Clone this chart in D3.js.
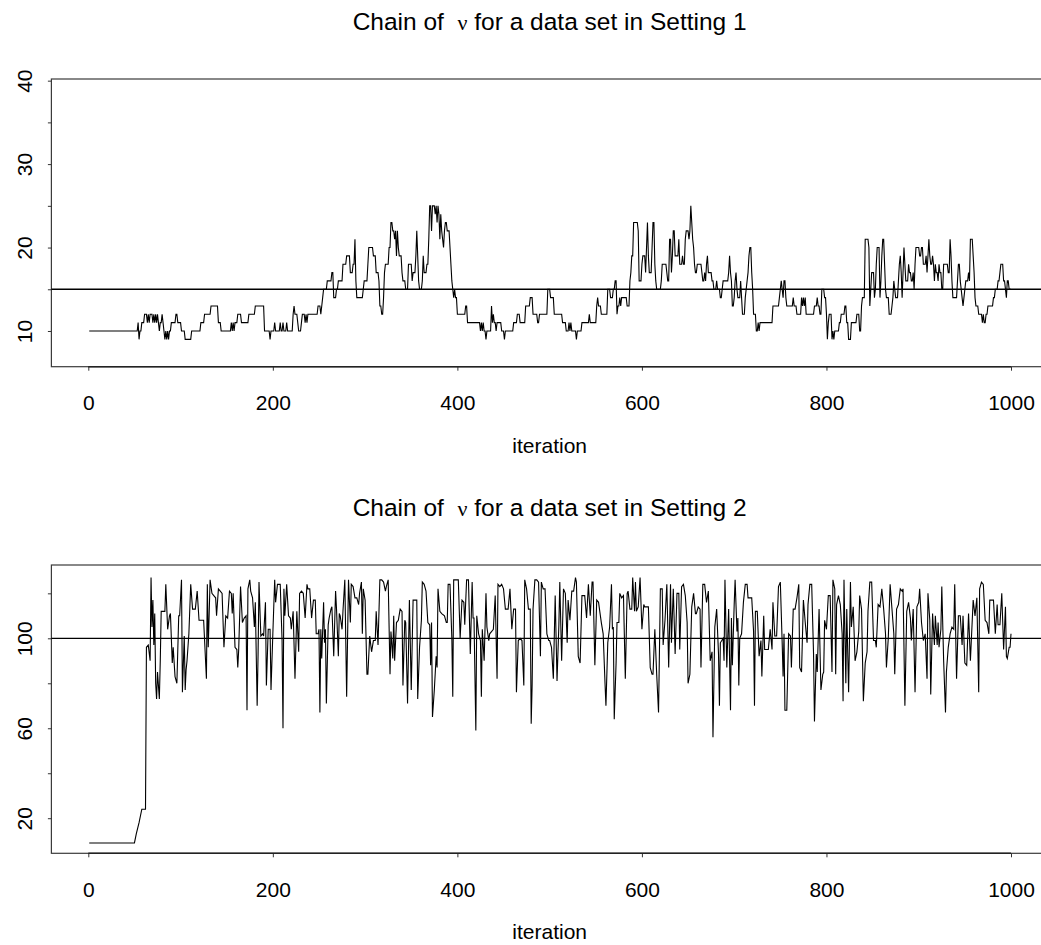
<!DOCTYPE html>
<html>
<head>
<meta charset="utf-8">
<script src="https://cdn.jsdelivr.net/npm/d3@7"></script>
<style>
  html, body { margin: 0; padding: 0; background: #fff; }
  svg { display: block; }
  text { font-family: "Liberation Sans", Arial, Helvetica, sans-serif; fill: #000; white-space: pre; }
</style>
</head>
<body>
<svg id="chart" width="1041" height="945"></svg>
<script>
// ---- data ---------------------------------------------------------------
// Setting 1: the sampler holds integer values for runs of iterations.
// Each pair is [first iteration of the run, value of nu during the run].
const chain1Runs = [
  [1,10],[54,11],[55,9],[56,10],[58,11],[61,12],[64,11],[65,12],[66,11],[67,12],[70,11],[71,12],[72,11],[73,12],[74,11],[75,12],[76,11],[77,10],[78,11],[80,12],[81,11],[82,10],[83,9],[84,10],[85,9],[86,10],[87,9],[88,10],[90,11],[95,12],[97,11],[101,10],[105,9],[112,10],[122,11],[126,12],[133,13],[141,11],[144,10],[155,11],[156,10],[157,11],[158,10],[159,11],[162,12],[166,11],[174,12],[181,13],[191,10],[197,9],[198,10],[202,11],[203,10],[208,11],[209,10],[211,11],[212,10],[215,11],[216,10],[222,12],[223,13],[224,12],[227,11],[228,10],[231,11],[232,12],[235,11],[236,12],[237,11],[238,12],[249,13],[252,12],[253,13],[254,14],[255,15],[259,16],[264,17],[266,14],[269,15],[271,16],[276,18],[280,19],[284,17],[287,18],[289,21],[290,16],[291,14],[298,15],[299,16],[303,18],[304,20],[309,19],[312,17],[315,16],[316,13],[318,12],[320,14],[321,17],[322,18],[326,20],[328,23],[330,22],[332,21],[333,22],[334,19],[335,22],[336,20],[337,19],[340,17],[341,16],[344,15],[347,18],[351,16],[352,17],[355,19],[356,22],[357,19],[358,16],[359,15],[362,16],[363,19],[364,17],[367,18],[369,21],[370,25],[372,22],[373,25],[376,24],[377,25],[378,23],[379,25],[380,24],[381,21],[382,24],[383,22],[384,21],[385,20],[386,22],[387,23],[389,22],[392,20],[393,18],[394,16],[395,15],[396,14],[397,15],[398,14],[400,12],[409,13],[411,11],[425,10],[426,11],[427,10],[428,11],[429,10],[431,9],[432,10],[437,13],[438,11],[439,12],[440,11],[442,10],[443,11],[448,10],[451,9],[452,10],[461,11],[465,12],[468,11],[474,13],[479,14],[482,12],[487,11],[489,12],[498,15],[501,14],[505,12],[514,11],[518,10],[521,11],[522,10],[523,11],[524,10],[529,9],[530,10],[535,11],[543,12],[544,11],[551,13],[552,14],[553,13],[556,12],[563,15],[566,14],[569,15],[571,16],[573,12],[574,13],[576,14],[577,13],[578,14],[584,13],[587,16],[588,17],[589,19],[591,23],[596,22],[597,16],[600,18],[601,19],[604,17],[605,20],[606,23],[607,19],[608,17],[611,20],[612,23],[614,18],[615,16],[616,15],[621,16],[622,18],[627,17],[628,16],[630,21],[632,17],[633,19],[634,22],[636,19],[640,21],[641,18],[644,19],[645,18],[647,21],[648,22],[651,21],[652,22],[653,25],[654,23],[655,21],[656,20],[657,18],[658,17],[660,18],[665,17],[666,16],[668,17],[669,16],[670,18],[671,19],[672,17],[676,16],[678,15],[681,16],[682,15],[685,14],[687,15],[688,16],[694,17],[695,19],[696,17],[697,16],[698,13],[700,14],[701,16],[702,17],[703,15],[704,14],[707,16],[708,14],[709,12],[712,14],[713,15],[714,16],[715,17],[716,19],[717,20],[719,17],[720,15],[721,12],[724,10],[726,11],[727,10],[728,11],[742,13],[749,14],[750,15],[751,16],[752,15],[753,14],[754,16],[756,14],[757,13],[764,14],[765,13],[768,12],[773,14],[774,13],[775,14],[776,13],[777,14],[778,12],[787,13],[790,14],[791,13],[793,12],[795,15],[798,14],[800,12],[801,9],[802,11],[803,12],[806,9],[807,10],[808,9],[809,10],[814,11],[816,12],[820,13],[822,11],[824,9],[827,11],[833,12],[836,10],[838,13],[839,14],[842,21],[846,20],[847,13],[848,15],[849,17],[852,14],[853,15],[854,18],[855,20],[858,14],[859,16],[860,19],[861,21],[863,18],[864,15],[865,14],[868,12],[871,13],[872,14],[873,16],[874,15],[875,14],[878,16],[879,18],[880,19],[881,17],[882,14],[883,17],[884,20],[885,18],[886,16],[889,18],[890,17],[892,16],[894,17],[895,15],[896,18],[897,20],[901,19],[903,20],[905,18],[908,19],[909,17],[910,19],[911,21],[912,19],[913,18],[915,19],[916,18],[917,16],[918,18],[919,17],[921,16],[922,18],[923,17],[925,15],[927,18],[932,17],[934,21],[935,19],[936,16],[937,14],[942,16],[943,18],[945,16],[946,15],[947,14],[948,13],[949,14],[950,15],[951,16],[954,17],[955,16],[956,21],[959,19],[960,17],[961,14],[962,13],[965,12],[969,11],[970,12],[971,11],[973,12],[975,13],[981,14],[983,15],[986,16],[988,17],[989,18],[992,16],[994,15],[995,14],[996,16],[998,15]
];
const chain1LastIter = 1000;

// Setting 2: sampled nu, as [iteration, value] pairs.
const chain2Points = [
  [1,9],[50,9],[52,13],[55,18],[58,24],[62,24],[63,96],[65,97],[67,90],[68,127],[69,105],[70,117],[71,97],[72,111],[73,80],[74,73],[75,85],[77,73],[78,90],[79,112],[81,112],[83,112],[84,124],[86,104],[88,110],[89,111],[91,89],[92,96],[94,83],[96,80],[98,110],[99,110],[101,126],[102,76],[104,101],[105,77],[106,86],[107,90],[109,102],[111,124],[113,113],[116,113],[118,121],[120,108],[123,108],[125,108],[128,82],[129,124],[130,96],[132,126],[134,120],[136,119],[138,118],[139,110],[141,122],[143,121],[145,120],[147,96],[149,110],[151,109],[153,121],[155,120],[156,111],[157,120],[159,96],[161,95],[162,87],[163,95],[165,123],[167,107],[169,109],[171,110],[172,68],[173,122],[175,126],[176,121],[178,118],[180,105],[181,116],[183,70],[184,93],[185,125],[187,101],[189,102],[190,101],[192,116],[193,79],[195,104],[197,104],[198,77],[200,102],[202,126],[203,116],[205,124],[208,124],[210,99],[211,60],[212,122],[213,110],[215,124],[217,110],[219,109],[220,104],[222,112],[224,82],[226,112],[228,94],[229,120],[231,121],[233,120],[235,109],[237,124],[238,122],[240,122],[242,109],[244,117],[246,117],[247,102],[249,102],[250,104],[251,67],[252,104],[253,91],[255,116],[256,98],[257,104],[258,71],[260,106],[261,109],[263,113],[264,114],[266,92],[268,121],[269,113],[271,92],[272,111],
  [273,110],[275,104],[276,112],[278,126],[280,74],[282,126],[284,107],[285,124],[287,123],[289,118],[291,118],[293,115],[294,120],[296,125],[297,102],[298,122],[300,117],[302,84],[303,84],[305,101],[307,94],[309,99],[311,99],[312,112],[314,97],[316,126],[318,126],[320,125],[322,121],[323,123],[325,126],[327,84],[328,103],[330,91],[331,110],[332,90],[334,107],[336,108],[338,113],[340,112],[341,79],[343,108],[344,107],[346,71],[348,117],[350,77],[352,117],[354,117],[356,117],[357,73],[359,96],[361,108],[362,125],[364,124],[366,121],[368,107],[370,106],[371,88],[372,107],[373,65],[375,77],[377,92],[378,87],[379,122],[381,112],[383,111],[386,110],[388,107],[389,107],[390,124],[392,124],[394,100],[395,74],[396,126],[399,126],[401,126],[403,100],[405,117],[407,116],[408,106],[410,126],[412,126],[414,93],[416,125],[417,109],[418,109],[420,59],[421,110],[423,102],[425,99],[426,74],[427,104],[429,90],[431,120],[432,105],[434,99],[435,102],[437,103],[439,104],[441,119],[443,82],[444,124],[446,123],[448,124],[450,122],[452,113],[453,113],[455,113],[457,122],[459,104],[461,113],[463,113],[464,76],[466,99],[468,100],[470,99],[472,79],[473,126],[475,122],[477,113],[479,113],[480,62],[481,79],[482,113],[484,126],[486,126],[488,125],[490,92],[491,125],[493,122],[495,122],[497,102],[499,99],[500,99],[502,96],[504,82],[506,119],[508,81],[510,106],[511,125],[513,90],[515,122],[517,120],[519,98],[520,117],[522,108],[524,121],[526,121],[528,127],[529,125],[531,92],[533,89],[535,119],[537,119],[538,119],[540,109],[542,124],[544,110],[546,125],[547,125],[549,88],[551,117],[553,116],[555,110],[556,107],[558,102],[560,80],[561,70],[563,98],[565,105],[567,124],[568,104],[569,105],[570,64],[572,89],[573,107],[575,107],[576,120],[578,118],[580,119],[582,82],[584,120],[585,121],[587,113],[589,113],[590,127],[592,112],[593,125],[594,112],[596,114],[598,127],[600,104],[602,115],[603,114],[605,114],[607,114],[609,87],[611,84],[612,84],[614,104],[616,84],[618,67],[620,122],[622,122],[623,97],[625,108],[627,124],[629,87],[631,124],[632,98],[634,122],[636,93],[638,120],[640,120],[641,95],[643,123],[645,124],[647,119],[649,107],[650,80],
  [652,84],[654,114],[656,120],[658,111],[659,111],[661,114],[663,113],[664,87],[666,124],[668,124],[670,116],[672,121],[674,90],[676,94],[677,56],[679,105],[681,113],[683,93],[684,70],[685,98],[688,100],[689,90],[690,126],[692,87],[694,113],[696,68],[697,109],[698,88],[700,115],[701,126],[703,103],[704,109],[705,79],[706,100],[708,102],[710,116],[712,124],[714,124],[715,118],[717,118],[719,118],[721,103],[722,70],[723,112],[725,112],[727,92],[729,99],[730,83],[732,110],[733,95],[735,95],[737,95],[739,104],[741,95],[742,116],[744,101],[746,101],[748,123],[750,125],[752,98],[753,83],[754,102],[755,68],[757,68],[759,102],[761,101],[762,87],[764,113],[766,113],[768,118],[770,124],[771,87],[773,85],[775,117],[777,107],[779,98],[780,115],[782,124],[784,124],[786,93],[787,63],[789,93],[790,85],[792,113],[794,77],[796,84],[797,85],[798,108],[800,104],[802,119],[804,119],[806,85],[807,126],[809,122],[810,84],[811,115],[813,119],[815,115],[817,102],[818,72],[819,126],[821,80],[822,113],[824,76],[826,125],[827,105],[829,114],[831,90],[833,94],[835,103],[836,119],[838,113],[840,72],[842,89],[844,94],[845,112],[847,125],[849,125],[851,99],[853,99],[854,96],[856,115],[858,114],[860,122],[862,113],[864,102],[865,87],[867,100],[869,124],[871,113],[873,102],[874,84],[876,113],[878,115],[880,122],[882,121],[883,122],[885,70],[887,112],[889,116],[891,109],[892,99],[894,113],[896,76],[898,114],[900,116],[901,122],[903,107],[905,99],[907,102],[909,82],[910,120],[912,108],[913,75],[915,111],[917,97],[918,110],[920,97],[921,107],[922,96],[924,104],[925,123],[927,90],[929,67],[930,85],[932,96],[934,102],[936,105],[938,104],[939,124],[941,82],[943,110],[945,110],[947,97],[948,110],[950,89],[952,88],[954,111],[956,90],[957,99],[959,117],[961,110],[963,118],[965,76],[966,122],[968,125],[970,124],[972,108],[974,107],[976,102],[977,117],[979,117],[981,117],[983,102],[985,115],[986,106],[988,106],[990,120],[992,95],[994,114],[995,92],[996,91],[998,96],[999,96],[1000,102]
];

const xTicks = [0, 200, 400, 600, 800, 1000];
const yTicks1 = [10, 15, 20, 25, 30, 35, 40];
const yLabels1 = [10, 20, 30, 40];
const yTicks2 = [20, 40, 60, 80, 100, 120];
const yLabels2 = [20, 60, 100];
const refLine1 = 15;
const refLine2 = 100;
const titles = ["Setting 1", "Setting 2"];

// expand the run encoding into one point per iteration
function expandRuns(runs, lastIter) {
  const pts = [];
  runs.forEach((r, i) => {
    const end = i + 1 < runs.length ? runs[i + 1][0] - 1 : lastIter;
    for (let t = r[0]; t <= end; t++) pts.push([t, r[1]]);
  });
  return pts;
}

// ---- drawing ------------------------------------------------------------
const svg = d3.select("#chart");
svg.append("rect").attr("width", 1041).attr("height", 945).attr("fill", "#fff");

const xRange = [88.3, 1011];          // iterations 0 .. 1000
const xPad = 40;                      // 4% extension on each side of the domain

function drawPanel(opts) {
  const g = svg.append("g");
  const x = d3.scaleLinear().domain([0, 1000]).range(xRange);
  const y = d3.scaleLinear().domain(opts.yDomain).range([opts.bottom, opts.top]);

  const left = x(-xPad), right = x(1000 + xPad);

  // title with the Greek nu set in a serif face
  const title = g.append("text")
    .attr("x", (left + right) / 2)
    .attr("y", opts.top - 49)
    .attr("text-anchor", "middle")
    .style("font-size", "24.5px");
  title.append("tspan").text("Chain of  ");
  title.append("tspan").style("font-family", "'Liberation Serif', 'DejaVu Serif', serif").style("font-size", "22px").text("\u03BD");
  title.append("tspan").text(" for a data set in " + opts.title);

  // plot frame
  g.append("rect")
    .attr("x", left).attr("y", opts.top)
    .attr("width", right - left).attr("height", opts.bottom - opts.top)
    .attr("fill", "none").attr("stroke", "#3a3a3a").attr("stroke-width", 1.2);

  // x axis
  const xAxis = d3.axisBottom(x).tickValues(xTicks).tickSize(4).tickPadding(24.4)
    .tickFormat(d3.format("d"));
  const gx = g.append("g").attr("transform", `translate(0,${opts.bottom})`).call(xAxis);
  gx.select(".domain").remove();
  gx.append("line").attr("x1", x(0)).attr("x2", x(1000)).attr("stroke", "#222").attr("stroke-width", 1.5);
  gx.selectAll(".tick line").attr("stroke", "#333");
  gx.selectAll(".tick text")
    .style("font-family", "'Liberation Sans', Arial, sans-serif")
    .style("font-size", "21px").attr("fill", "#000");

  g.append("text")
    .attr("x", (left + right) / 2)
    .attr("y", opts.bottom + 86)
    .attr("text-anchor", "middle")
    .style("font-size", "21px")
    .text("iteration");

  // y axis with rotated labels
  const yAxis = d3.axisLeft(y).tickValues(opts.yTicks).tickSize(3.5)
    .tickFormat(d => opts.yLabels.includes(d) ? String(d) : "");
  const gy = g.append("g").attr("transform", `translate(${left},0)`).call(yAxis);
  gy.select(".domain").remove();
  gy.selectAll(".tick line").attr("stroke", "#333");
  gy.selectAll(".tick text")
    .attr("x", null).attr("dy", null)
    .attr("text-anchor", "middle")
    .attr("transform", `translate(${32 - left},0) rotate(-90)`)
    .style("font-family", "'Liberation Sans', Arial, sans-serif")
    .style("font-size", "21px").attr("fill", "#000");

  // reference line
  g.append("line")
    .attr("x1", left).attr("x2", right)
    .attr("y1", y(opts.ref)).attr("y2", y(opts.ref))
    .attr("stroke", "#000").attr("stroke-width", 1.3);

  // trace
  const line = d3.line().x(d => x(d[0])).y(d => y(d[1]));
  g.append("path")
    .datum(opts.points)
    .attr("d", line)
    .attr("fill", "none")
    .attr("stroke", "#000")
    .attr("stroke-width", 1.1)
    .attr("stroke-linejoin", "miter");
}

drawPanel({
  title: titles[0],
  top: 79, bottom: 366.7,
  yDomain: [5.72, 40.2],
  yTicks: yTicks1, yLabels: yLabels1,
  ref: refLine1,
  points: expandRuns(chain1Runs, chain1LastIter)
});

drawPanel({
  title: titles[1],
  top: 565, bottom: 853.3,
  yDomain: [4.4, 132.6],
  yTicks: yTicks2, yLabels: yLabels2,
  ref: refLine2,
  points: chain2Points
});
</script>
</body>
</html>
